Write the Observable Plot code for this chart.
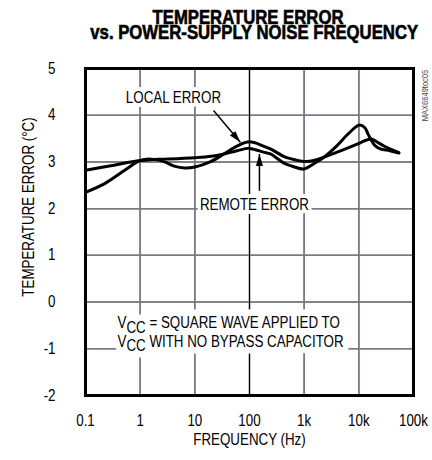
<!DOCTYPE html>
<html>
<head>
<meta charset="utf-8">
<script src="https://cdn.jsdelivr.net/npm/d3@7"></script>
<script src="https://cdn.jsdelivr.net/npm/@observablehq/plot@0.6"></script>
<style>
  html, body { margin: 0; padding: 0; background: #fff; }
  body { width: 432px; height: 460px; overflow: hidden; }
  #title {
    box-sizing: border-box; width: 432px; height: 48px; padding: 9.5px 0 0 64px;
    text-align: center; font-family: "Liberation Sans", Arial, sans-serif;
    font-weight: bold; font-size: 19.5px; line-height: 15.5px; color: #000;
    -webkit-text-stroke: 0.6px #000; white-space: nowrap;
    transform: scaleX(0.857); transform-origin: 248px 0;
  }
  #chart { position: relative; width: 432px; height: 412px; }
  #chart > svg { position: absolute; left: 0; top: 0; }
</style>
</head>
<body>
<div id="title">TEMPERATURE ERROR<br>vs. POWER-SUPPLY NOISE FREQUENCY</div>
<div id="chart"></div>
<script>
// ---- data ----
const localHz  = [0.1, 0.22, 0.52, 1, 1.6, 2.8, 4.2, 6.5, 10, 19, 34, 59, 100, 180, 241, 420, 560, 1000, 1500, 4000, 10600, 14000, 17000, 22000, 30000, 54000];
const localErr = [2.35, 2.53, 2.82, 3.03, 3.06, 3.0, 2.91, 2.87, 2.89, 3.0, 3.17, 3.34, 3.43, 3.34, 3.28, 3.12, 3.07, 3.01, 3.03, 3.21, 3.41, 3.47, 3.49, 3.42, 3.33, 3.2];
const remoteHz  = [0.1, 0.29, 1, 1.6, 2.8, 10, 20, 34, 59, 100, 180, 241, 420, 560, 1000, 1500, 2300, 4000, 6000, 8600, 10400, 12900, 14700, 17000, 19800, 24800, 37000, 54000];
const remoteErr = [2.82, 2.92, 3.03, 3.05, 3.06, 3.09, 3.12, 3.17, 3.24, 3.29, 3.21, 3.17, 2.98, 2.92, 2.85, 2.96, 3.10, 3.35, 3.57, 3.74, 3.79, 3.73, 3.60, 3.46, 3.35, 3.28, 3.24, 3.19];

const xTicks = [0.1, 1, 10, 100, 1000, 10000, 100000];
const xTickLabels = ["0.1", "1", "10", "100", "1k", "10k", "100k"];
const yTicks = [-2, -1, 0, 1, 2, 3, 4, 5];

const xLabel = "FREQUENCY (Hz)";
const yLabel = "TEMPERATURE ERROR (°C)";
const figId = "MAX6649toc05";

// annotation anchors (data units: Hz, °C)
const labelNames = ["LOCAL ERROR", "REMOTE ERROR"];
const labelHz = [4.06, 123];
const labelErr = [4.38, 2.09];
const arrowFromHz = [22, 152];
const arrowFromErr = [4.1, 2.38];
const arrowToHz = [68, 152];
const arrowToErr = [3.42, 3.17];
const noteLines = ["V_CC = SQUARE WAVE APPLIED TO", "V_CC WITH NO BYPASS CAPACITOR"];
const noteHz = [0.385, 0.385];
const noteErr = [-0.45, -0.85];

// ---- build tables ----
const localData = localHz.map((f, i) => ({f, e: localErr[i]}));
const remoteData = remoteHz.map((f, i) => ({f, e: remoteErr[i]}));
const labels = labelNames.map((t, i) => ({t, f: labelHz[i], e: labelErr[i]}));
const arrows = arrowFromHz.map((f, i) => ({x1: f, y1: arrowFromErr[i], x2: arrowToHz[i], y2: arrowToErr[i]}));
const notes = noteLines.map((t, i) => ({t, f: noteHz[i], e: noteErr[i]}));
const tickLabelOf = new Map(xTicks.map((t, i) => [t, xTickLabels[i]]));

const FONT = '"Liberation Sans", Arial, sans-serif';
const FS = 16;
const NARROW = 0.834;
const GRID = "#7a7a86";

const frameOpts = {
  width: 432, height: 412,
  marginTop: 20, marginBottom: 65, marginLeft: 85, marginRight: 19
};

// grid layer (underneath)
const gridLayer = Plot.plot({
  ...frameOpts,
  style: {background: "#fff"},
  x: {type: "log", domain: [0.1, 100000], axis: null},
  y: {domain: [-2, 5], axis: null},
  marks: [
    Plot.ruleX(xTicks, {stroke: GRID, strokeWidth: 1.5}),
    Plot.ruleY(yTicks, {stroke: GRID, strokeWidth: 1.5}),
    Plot.ruleX([100], {stroke: "#000", strokeWidth: 1})
  ]
});

// main layer (transparent, on top)
const chart = Plot.plot({
  ...frameOpts,
  style: {fontFamily: FONT, fontSize: FS + "px", color: "#000", background: "transparent"},
  x: {type: "log", domain: [0.1, 100000]},
  y: {domain: [-2, 5]},
  marks: [
    Plot.ruleX(xTicks, {stroke: GRID, strokeWidth: 1.5}),
    Plot.ruleY(yTicks, {stroke: GRID, strokeWidth: 1.5}),
    Plot.ruleX([100], {stroke: "#000", strokeWidth: 1}),
    Plot.axisX(xTicks, {tickSize: 0, tickPadding: 19, tickFormat: d => tickLabelOf.get(d), label: null, fontSize: FS}),
    Plot.axisY(yTicks, {tickSize: 0, tickPadding: 30, tickFormat: d => String(d), label: null, fontSize: FS}),
    Plot.text([xLabel], {frameAnchor: "bottom", dy: 44.5, lineAnchor: "middle", textAnchor: "middle", text: d => d, fontSize: FS}),
    Plot.text([yLabel], {frameAnchor: "left", dx: -57, dy: -25, rotate: -90, lineAnchor: "middle", textAnchor: "middle", text: d => d, fontSize: FS}),
    Plot.text([figId], {frameAnchor: "top-right", dx: 12, dy: 27, rotate: -90, lineAnchor: "middle", textAnchor: "middle", text: d => d, fontSize: 9, fill: "#444"}),
    // white knock-outs behind labels
    Plot.text(labels, {x: "f", y: "e", text: "t", fontSize: FS, fill: "#fff", stroke: "#fff", strokeWidth: 8, strokeLinejoin: "round"}),
    Plot.text(notes, {x: "f", y: "e", text: "t", textAnchor: "start", fontSize: FS, fill: "#fff", stroke: "#fff", strokeWidth: 13, strokeLinejoin: "round"}),
    Plot.text(labels, {x: "f", y: "e", text: "t", fontSize: FS, fill: "#000"}),
    Plot.text(notes, {x: "f", y: "e", text: "t", textAnchor: "start", fontSize: FS, fill: "#000"}),
    Plot.line(localData, {x: "f", y: "e", curve: "catmull-rom", stroke: "#000", strokeWidth: 3}),
    Plot.line(remoteData, {x: "f", y: "e", curve: "catmull-rom", stroke: "#000", strokeWidth: 3}),
    Plot.link(arrows, {x1: "x1", y1: "y1", x2: "x2", y2: "y2", stroke: "#000", strokeWidth: 1.5, markerEnd: "arrow"}),
    Plot.frame({stroke: "#000", strokeWidth: 3})
  ]
});

// filled arrowheads
chart.querySelectorAll("marker").forEach(m => {
  m.setAttribute("viewBox", "-12 -3.5 12 7");
  m.setAttribute("markerUnits", "userSpaceOnUse");
  m.setAttribute("markerWidth", "12");
  m.setAttribute("markerHeight", "7");
  m.setAttribute("refX", "0");
  m.setAttribute("refY", "0");
  m.setAttribute("fill", "#000");
  m.setAttribute("stroke", "none");
  m.innerHTML = "";
  const p = document.createElementNS("http://www.w3.org/2000/svg", "path");
  p.setAttribute("d", "M-12,-3.5L0,0L-12,3.5Z");
  m.appendChild(p);
});

// subscripts in V_CC
chart.querySelectorAll("text").forEach(t => {
  const s = t.textContent;
  if (t.children.length === 0 && s.startsWith("V_CC")) {
    t.textContent = "V";
    const sub = document.createElementNS("http://www.w3.org/2000/svg", "tspan");
    sub.setAttribute("dy", "0.28em");
    sub.textContent = "CC";
    const rest = document.createElementNS("http://www.w3.org/2000/svg", "tspan");
    rest.setAttribute("dy", "-0.28em");
    rest.textContent = s.slice(4);
    t.appendChild(sub);
    t.appendChild(rest);
  }
});

const host = document.getElementById("chart");
host.appendChild(gridLayer);
host.appendChild(chart);

// condensed lettering (Helvetica Condensed look)
chart.querySelectorAll("text").forEach(t => {
  if (!t.textContent) return;
  const len = t.getComputedTextLength();
  if (len > 0) {
    t.setAttribute("textLength", (len * NARROW).toFixed(2));
    t.setAttribute("lengthAdjust", "spacingAndGlyphs");
  }
});
</script>
</body>
</html>
